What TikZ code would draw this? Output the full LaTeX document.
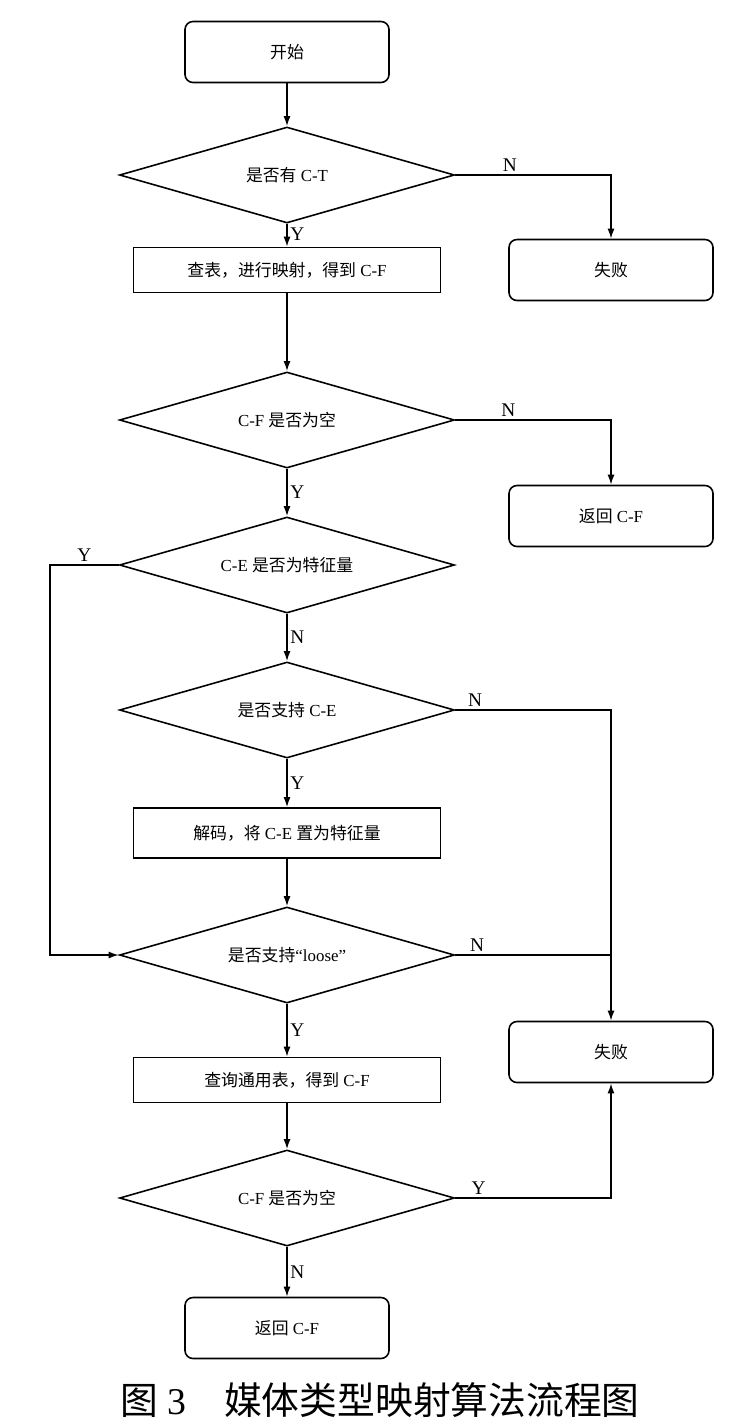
\documentclass[tikz,border=0pt]{standalone}
\usepackage{fontspec}
\setmainfont{Liberation Serif}
\newfontfamily\cjk{Noto Sans CJK SC}
\usetikzlibrary{positioning,shapes.geometric,arrows.meta}

\begin{document}
\begin{tikzpicture}[on grid,line width=0.9pt,>={Latex[length=2mm,width=1.4mm]},
    font=\fontsize{9.6}{11}\selectfont,
    term/.style={draw,rounded corners=1.6mm,minimum width=4.08cm,minimum height=1.22cm},
    proc/.style={draw,minimum width=6.14cm,minimum height=0.9cm},
    dec/.style={draw,diamond,aspect=3.5,minimum width=6.7cm,minimum height=1.92cm,inner sep=0pt},
    yn/.style={font=\fontsize{11}{12}\selectfont,inner sep=1.5pt}]
    \useasboundingbox (0,0) rectangle (14.8,-28.54);
    \node[term] (start) at (5.74,-1.04) {{\cjk 开始}};
    \node[dec,below=2.46cm of start] (ct) {{\cjk 是否有} C-T};
    \node[proc,below=1.9cm of ct] (lookup) {{\cjk 查表，进行映射，得到} C-F};
    \node[term,right=6.48cm of lookup] (fail1) {{\cjk 失败}};
    \node[dec,below=3.0cm of lookup] (cfa) {C-F {\cjk 是否为空}};
    \node[term,below right=1.92cm and 6.48cm of cfa] (ret1) {{\cjk 返回} C-F};
    \node[dec,below=2.9cm of cfa] (ce) {C-E {\cjk 是否为特征量}};
    \node[dec,below=2.9cm of ce] (sup) {{\cjk 是否支持} C-E};
    \node[proc,minimum height=1.0cm,below=2.46cm of sup] (decode) {{\cjk 解码，将} C-E {\cjk 置为特征量}};
    \node[dec,below=2.44cm of decode] (loose) {{\cjk 是否支持}“loose”};
    \node[term,below right=1.94cm and 6.48cm of loose] (fail2) {{\cjk 失败}};
    \node[proc,below=2.5cm of loose] (query) {{\cjk 查询通用表，得到} C-F};
    \node[dec,below=2.36cm of query] (cfb) {C-F {\cjk 是否为空}};
    \node[term,below=2.6cm of cfb] (ret2) {{\cjk 返回} C-F};
    \node[font=\fontsize{21.5}{26}\selectfont] (cap) at (7.6,-28.0) {{\cjk 图} 3\quad{\cjk 媒体类型映射算法流程图}};
    \coordinate (lp) at (1.0,0);
    \draw[->] (start) -- (ct);
    \draw[->] (ct) -- node[yn,right,pos=0.45]{Y} (lookup);
    \draw[->] (ct.east) -| node[yn,above,pos=0.175]{N} (fail1);
    \draw[->] (lookup) -- (cfa);
    \draw[->] (cfa.east) -| node[yn,above,pos=0.17]{N} (ret1);
    \draw[->] (cfa) -- node[yn,right]{Y} (ce);
    \draw[->] (ce.west) -- node[yn,above]{Y} (ce.west -| lp) |- (loose.west);
    \draw[->] (ce) -- node[yn,right]{N} (sup);
    \draw[->] (sup.east) -| node[yn,above,pos=0.064]{N} (fail2);
    \draw[->] (sup) -- node[yn,right]{Y} (decode);
    \draw[->] (decode) -- (loose);
    \draw (loose.east) -- node[yn,above,pos=0.14]{N} (loose.east -| fail2);
    \draw[->] (loose) -- node[yn,right]{Y} (query);
    \draw[->] (query) -- (cfb);
    \draw[->] (cfb.east) -| node[yn,above,pos=0.075]{Y} (fail2);
    \draw[->] (cfb) -- node[yn,right]{N} (ret2);
\end{tikzpicture}
\end{document}
